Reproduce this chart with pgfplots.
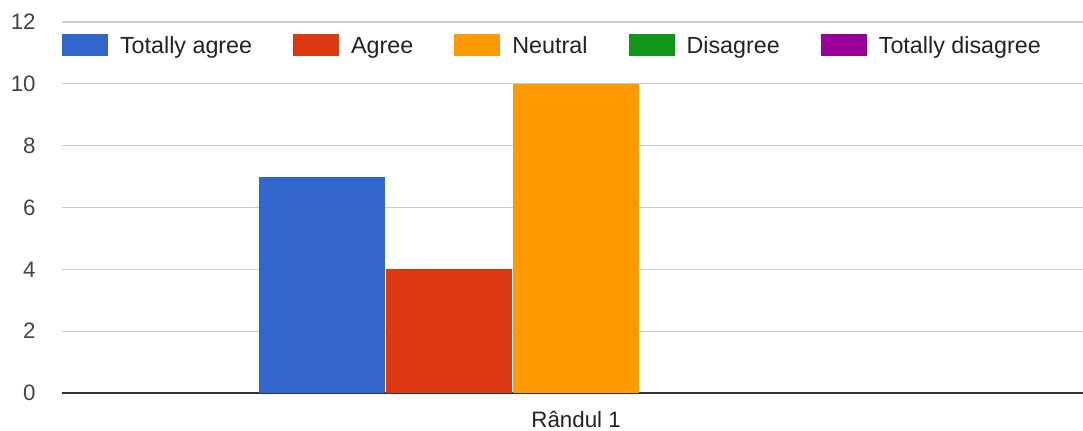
\documentclass[border=0pt]{standalone}
\usepackage{fontspec}
\setmainfont{Liberation Sans}
\usepackage{pgfplots}
\pgfplotsset{compat=1.18}
\definecolor{cA}{HTML}{3366CC}
\definecolor{cB}{HTML}{DC3912}
\definecolor{cC}{HTML}{FF9900}
\definecolor{cD}{HTML}{109618}
\definecolor{cE}{HTML}{990099}
\definecolor{gridc}{HTML}{CCCCCC}
\definecolor{axc}{HTML}{333333}
\definecolor{tickc}{HTML}{444444}
\definecolor{txtc}{HTML}{222222}
\begin{document}
\begin{tikzpicture}
\path[use as bounding box] (0,0) rectangle (541.5bp,215.5bp);
\begin{axis}[
  at={(31bp,19bp)}, anchor=south west,
  scale only axis, width=510.5bp, height=185.5bp,
  ybar=0.5bp, bar width=63bp,
  xmin=-1, xmax=0.986, ymin=0, ymax=12,
  ytick={0,2,...,12}, xtick={0}, xticklabels={Rândul 1},
  axis y line*=left, axis x line*=bottom,
  y axis line style={draw=none},
  x axis line style={axc, line width=1bp, -},
  major tick length=0pt,
  ymajorgrids, grid style={gridc, line width=0.6bp},
  /pgf/number format/assume math mode=true,
  yticklabel style={font=\fontsize{11.2}{13}\selectfont, text=tickc, inner sep=0pt, anchor=east, xshift=-13bp},
  xticklabel style={font=\fontsize{11.2}{13}\selectfont, text=txtc, inner sep=0pt, anchor=north, yshift=-9bp},
  legend columns=5,
  legend style={at={(0,0.937)}, anchor=west, draw=none, fill=none, inner sep=0pt, outer sep=0pt,
    font=\fontsize{11.7}{13}\selectfont, text=txtc,
    nodes={inner sep=0pt},
    /tikz/every odd column/.append style={column sep=6bp},
    /tikz/every even column/.append style={column sep=20.5bp}},
  legend cell align=left,
  myleg/.style={legend image code/.code={\fill[##1, draw=none] (0bp,-4.5bp) rectangle (23bp,6.5bp);}},
]
\addplot[fill=cA, draw=none, myleg] coordinates {(0,7)};
\addplot[fill=cB, draw=none, myleg] coordinates {(0,4)};
\addplot[fill=cC, draw=none, myleg] coordinates {(0,10)};
\addplot[fill=cD, draw=none, myleg] coordinates {(0,0)};
\addplot[fill=cE, draw=none, myleg] coordinates {(0,0)};
\legend{Totally agree, Agree, Neutral, Disagree, Totally disagree}
\end{axis}
\end{tikzpicture}
\end{document}
